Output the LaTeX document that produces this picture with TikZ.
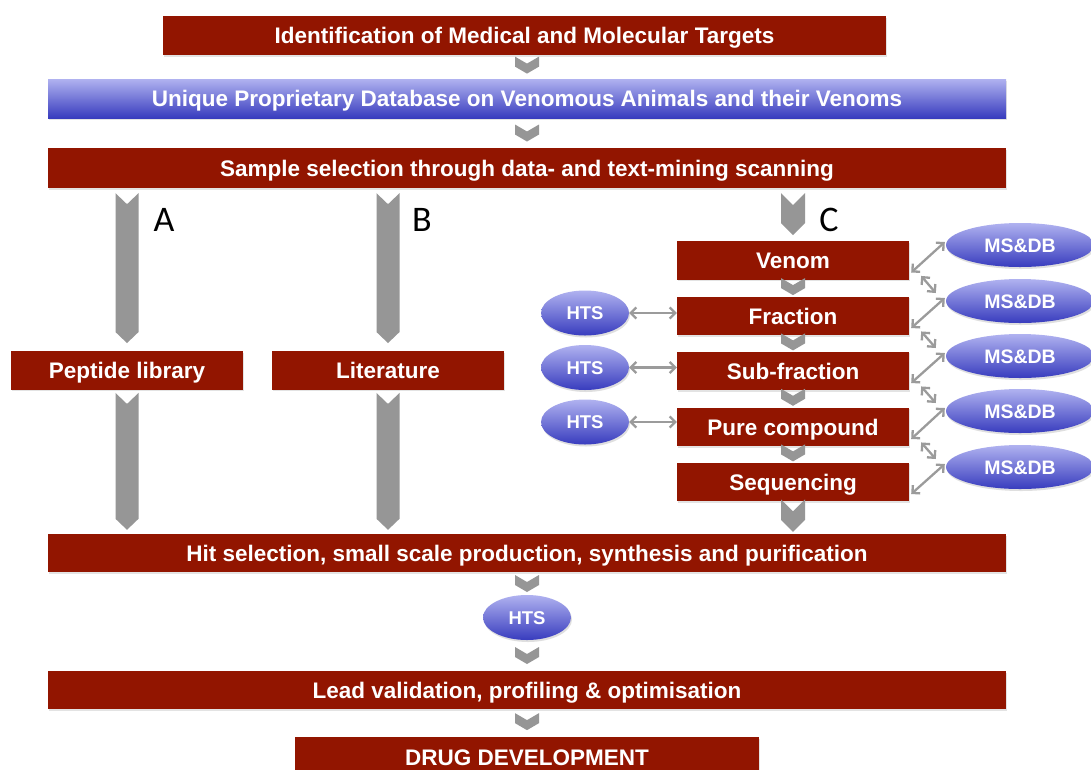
\documentclass[tikz,border=0pt]{standalone}
\usepackage{fontspec}
\setmainfont{Liberation Sans}
\newfontfamily\calfont{Carlito}
\usetikzlibrary{calc,arrows.meta,shapes.geometric,shadows}
\definecolor{boxred}{RGB}{146,21,0}
\definecolor{chevgray}{RGB}{150,150,150}
\definecolor{arrgray}{RGB}{155,155,155}
\definecolor{bluetop}{RGB}{176,178,240}
\definecolor{bluebot}{RGB}{56,60,190}
\newcommand{\gbar}[4]{\fill[chevgray] let \p1=#1, \p2=#2 in
  (\x1-#3,\y1) -- (\x1,\y1-#4) -- (\x1+#3,\y1) -- (\x1+#3,\y2+#4) -- (\x1,\y2) -- (\x1-#3,\y2+#4) -- cycle;}
\begin{document}
\begin{tikzpicture}[x=1pt,y=-1pt,
  bigfont/.style={font=\bfseries\fontsize{22.5}{26}\selectfont, text height=16pt, text depth=0pt},
  redbox/.style={rectangle, fill=boxred, text=white, bigfont, inner sep=0pt,
     drop shadow={opacity=0.22,shadow xshift=1pt,shadow yshift=-1.5pt}},
  bluebox/.style={rectangle, top color=bluetop, bottom color=bluebot, text=white, bigfont, inner sep=0pt,
     drop shadow={opacity=0.22,shadow xshift=1pt,shadow yshift=-1.5pt}},
  wide/.style={minimum width=958pt, minimum height=39pt},
  small/.style={minimum width=232pt, minimum height=38.5pt},
  bell/.style={ellipse, top color=bluetop, bottom color=bluebot, text=white, inner sep=0pt,
     drop shadow={opacity=0.25,shadow xshift=1pt,shadow yshift=-2pt}},
  hts/.style={bell, minimum width=88pt, minimum height=45pt, font=\bfseries\fontsize{18.5}{20}\selectfont,
     text height=13pt, text depth=0pt},
  msdb/.style={bell, minimum width=148pt, minimum height=44pt, font=\bfseries\fontsize{19.5}{21}\selectfont,
     text height=14pt, text depth=0pt},
  letter/.style={font=\calfont\fontsize{36}{40}\selectfont, inner sep=0pt},
  dbl/.style={draw=arrgray, line width=2.3pt, {Straight Barb[length=5.5pt,width=11pt]}-{Straight Barb[length=5.5pt,width=11pt]}},
  chev/.pic={\fill[chevgray] (-12,-8.5) -- (0,-1.5) -- (12,-8.5) -- (12,1.5) -- (0,8.5) -- (-12,1.5) -- cycle;}
]
\useasboundingbox (0,0) rectangle (1091,769);
\fill[white] (0,0) rectangle (1091,769);

% main column
\node[redbox, minimum width=723pt, minimum height=39pt] (id) at (524.5,35.5) {Identification of Medical and Molecular Targets};
\node[bluebox, wide] (db) at (527,98.5) {Unique Proprietary Database on Venomous Animals and their Venoms};
\node[redbox, wide, minimum height=40pt] (sample) at (527,168) {Sample selection through data- and text-mining scanning};

% branches A, B
\node[redbox, small] (peptide) at (127,370.5) {Peptide library};
\node[redbox, small] (lit) at (388,370.5) {Literature};

% branch C
\node[redbox, small] (venom) at (793,260.5) {Venom};
\node[redbox, small] (fraction) at (793,316) {Fraction};
\node[redbox, small] (subfr) at (793,371) {Sub-fraction};
\node[redbox, small] (pure) at (793,427) {Pure compound};
\node[redbox, small] (seq) at (793,482) {Sequencing};

\node[hts] (hts1) at (585,313) {HTS};
\node[hts] (hts2) at (585,367.5) {HTS};
\node[hts] (hts3) at (585,422) {HTS};

\node[msdb] (ms1) at (1020,245) {MS\&DB};
\node[msdb] (ms2) at (1020,301) {MS\&DB};
\node[msdb] (ms3) at (1020,356) {MS\&DB};
\node[msdb] (ms4) at (1020,411) {MS\&DB};
\node[msdb] (ms5) at (1020,467) {MS\&DB};

% lower column
\node[redbox, wide, minimum height=38pt] (hit) at (527,553) {Hit selection, small scale production, synthesis and purification};
\node[hts] (htsm) at (527,617.5) {HTS};
\node[redbox, wide, minimum height=38pt] (lead) at (527,690) {Lead validation, profiling \& optimisation};
\node[redbox, minimum width=464pt, minimum height=40pt] (drug) at (527,757) {DRUG DEVELOPMENT};

% letters
\node[letter] (la) at (164,220) {A};
\node[letter] (lb) at (422,220) {B};
\node[letter] (lc) at (829,220) {C};

% chevrons in the main column
\path ($(id.south -| db.north)!0.42!(db.north)$) pic {chev};
\path ($(db.south)!0.5!(sample.north)$) pic {chev};
\path ($(hit.south)!0.5!(htsm.north)$) pic {chev};
\path ($(htsm.south)!0.5!(lead.north)$) pic {chev};
\path ($(lead.south)!0.45!(drug.north)$) pic {chev};

% chevrons in column C
\path ($(venom.south)!0.4!(fraction.north)$) pic {chev};
\path ($(fraction.south)!0.4!(subfr.north)$) pic {chev};
\path ($(subfr.south)!0.4!(pure.north)$) pic {chev};
\path ($(pure.south)!0.4!(seq.north)$) pic {chev};

% long gray bars
\gbar{($(sample.south -| peptide.north)+(0,5)$)}{($(peptide.north)+(0,-8)$)}{11.5pt}{11pt}
\gbar{($(sample.south -| lit.north)+(0,5)$)}{($(lit.north)+(0,-8)$)}{11.5pt}{11pt}
\gbar{($(sample.south -| venom.north)+(0,5)$)}{($(venom.north)+(0,-6)$)}{12pt}{12pt}
\gbar{($(peptide.south)+(0,3)$)}{($(hit.north -| peptide.south)+(0,-4)$)}{11.5pt}{11pt}
\gbar{($(lit.south)+(0,3)$)}{($(hit.north -| lit.south)+(0,-4)$)}{11.5pt}{11pt}
\gbar{($(seq.south)+(0,-2)$)}{($(hit.north -| seq.south)+(0,-2)$)}{12pt}{12pt}

% HTS <-> boxes
\draw[dbl] (hts1.east) -- (hts1.east -| fraction.west);
\draw[dbl] (hts2.east) -- (hts2.east -| subfr.west);
\draw[dbl] (hts3.east) -- (hts3.east -| pure.west);

% boxes <-> MS&DB
\draw[dbl] ($(venom.east)+(2,12)$) -- ($(ms1.west)+(-1,-3)$);
\draw[dbl] ($(venom.south east)+(12,-4)$) -- ($(ms2.west)+(-10,-8)$);
\draw[dbl] ($(fraction.east)+(2,12)$) -- ($(ms2.west)+(-1,-3)$);
\draw[dbl] ($(fraction.south east)+(12,-4)$) -- ($(ms3.west)+(-10,-8)$);
\draw[dbl] ($(subfr.east)+(2,12)$) -- ($(ms3.west)+(-1,-3)$);
\draw[dbl] ($(subfr.south east)+(12,-4)$) -- ($(ms4.west)+(-10,-8)$);
\draw[dbl] ($(pure.east)+(2,12)$) -- ($(ms4.west)+(-1,-3)$);
\draw[dbl] ($(pure.south east)+(12,-4)$) -- ($(ms5.west)+(-10,-8)$);
\draw[dbl] ($(seq.east)+(2,12)$) -- ($(ms5.west)+(-1,-3)$);
\end{tikzpicture}
\end{document}
